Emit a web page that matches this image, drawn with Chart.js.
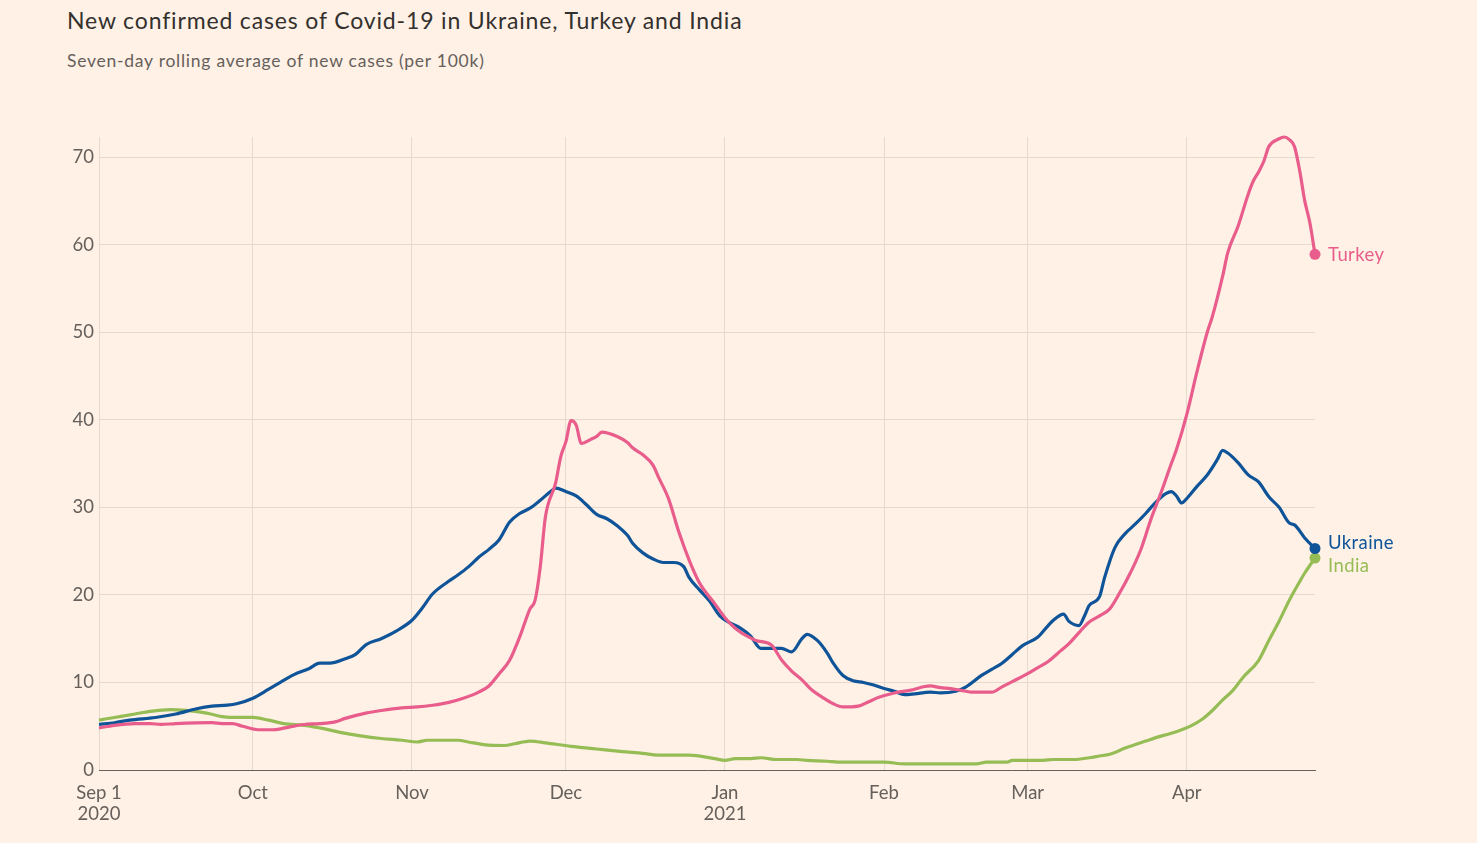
<!DOCTYPE html>
<html>
<head>
<meta charset="utf-8">
<script src="https://cdn.jsdelivr.net/npm/chart.js@4"></script>
<style>
  html, body { margin: 0; padding: 0; background: #fff1e5; width: 1477px; height: 843px; overflow: hidden; }
  #title { position: absolute; left: 67px; top: 6px; font-family: Lato, "Open Sans", sans-serif; font-size: 23px; letter-spacing: 0.85px; color: #33302e; white-space: nowrap; }
  #subtitle { position: absolute; left: 67px; top: 50px; font-family: Lato, "Open Sans", sans-serif; font-size: 17.5px; letter-spacing: 0.75px; color: #66605c; white-space: nowrap; }
  #wrap { position: absolute; left: 0; top: 0; width: 1477px; height: 843px; }
</style>
</head>
<body>
<div id="title">New confirmed cases of Covid-19 in Ukraine, Turkey and India</div>
<div id="subtitle">Seven-day rolling average of new cases (per 100k)</div>
<div id="wrap"><canvas id="c" width="1477" height="843"></canvas></div>
<script>
// Day index: 0 = 1 Sep 2020
const tickDays = [0, 30, 61, 91, 122, 153, 181, 212];
const tickLabels = [["Sep 1", "2020"], "Oct", "Nov", "Dec", ["Jan", "2021"], "Feb", "Mar", "Apr"];
const yTicks = [0, 10, 20, 30, 40, 50, 60, 70];

const ukraineDays = [0,3,6,11,15,19,22,25,27,30,33,35,38,41,43,45,48,50,52,55,58,61,63,65,68,70,72,74,76,78,80,82,84,86,88,89,91,93,95,97,99,101,103,104,106,108,110,112,114,115,117,119,121,123,125,127,129,131,133,135,137,138,140,142,143,145,147,149,151,153,155,157,159,162,164,167,169,172,174,176,178,180,183,185,186,188,189,191,192,193,195,196,198,200,202,204,206,208,209,210,211,212,214,216,218,219,220,222,224,226,228,230,232,233,235,237];
const ukraineValues = [5.2,5.4,5.7,6.0,6.4,7.0,7.3,7.4,7.6,8.2,9.2,9.9,10.9,11.6,12.2,12.2,12.7,13.2,14.3,15.0,15.9,17.1,18.5,20.1,21.5,22.3,23.2,24.3,25.2,26.3,28.3,29.3,29.9,30.8,31.8,32.2,31.8,31.3,30.3,29.2,28.7,27.9,26.8,25.9,24.8,24.1,23.7,23.7,23.2,22.0,20.6,19.3,17.6,16.8,16.2,15.3,13.9,13.9,13.9,13.5,15.0,15.5,14.8,13.3,12.3,10.8,10.2,10.0,9.7,9.3,9.0,8.6,8.7,8.9,8.8,9.0,9.5,10.8,11.5,12.2,13.2,14.2,15.2,16.5,17.1,17.8,17.0,16.5,17.5,18.8,19.8,22.0,25.4,27.0,28.1,29.3,30.6,31.6,31.8,31.3,30.5,31.0,32.4,33.7,35.5,36.5,36.2,35.1,33.7,32.9,31.2,30.0,28.2,28.0,26.5,25.3];

const turkeyDays = [0,3,7,10,12,15,22,24,26,28,31,34,37,40,43,46,48,52,55,59,62,65,68,71,74,76,78,80,82,84,85,86,87,89,90,91,92,93,94,96,97,98,101,103,104,106,108,109,111,113,115,117,120,122,124,126,128,131,133,135,137,139,141,143,145,148,150,152,155,158,162,164,166,168,170,174,176,178,181,183,185,187,189,191,193,195,197,199,201,203,205,207,209,210,212,214,216,217,219,220,222,224,225,226,227,228,230,231,232,233,234,235,236,237];
const turkeyValues = [4.8,5.1,5.3,5.3,5.2,5.3,5.4,5.3,5.3,5.0,4.6,4.6,4.9,5.2,5.3,5.5,5.9,6.5,6.8,7.1,7.2,7.4,7.7,8.2,8.9,9.6,11.0,12.5,15.2,18.4,19.4,23.2,28.9,32.8,35.8,37.5,39.9,39.4,37.3,37.8,38.1,38.6,38.1,37.4,36.8,36.0,34.8,33.5,31.0,27.2,24.0,21.4,19.0,17.4,16.2,15.4,14.8,14.3,12.6,11.3,10.3,9.1,8.3,7.6,7.2,7.3,7.8,8.3,8.8,9.1,9.6,9.4,9.3,9.1,8.9,8.9,9.5,10.1,11.0,11.7,12.4,13.4,14.4,15.7,16.9,17.6,18.4,20.3,22.5,25.1,28.6,31.7,35.0,36.6,40.6,45.5,50.0,51.8,56.4,59.1,62.1,65.8,67.3,68.3,69.5,71.2,72.1,72.3,72.0,71.2,68.5,65.0,62.5,58.9];

const indiaDays = [0,3,7,10,14,17,21,24,27,30,33,36,40,44,47,51,55,59,62,64,70,72,75,79,81,84,87,92,97,102,106,109,115,120,122,124,127,129,132,136,138,142,144,153,157,171,173,177,178,184,186,190,193,195,197,200,202,204,206,209,211,213,215,217,219,221,223,226,228,230,232,234,235,237];
const indiaValues = [5.7,6.0,6.4,6.7,6.9,6.8,6.5,6.1,6.0,6.0,5.7,5.3,5.1,4.7,4.3,3.9,3.6,3.4,3.2,3.4,3.4,3.2,2.9,2.8,3.0,3.3,3.1,2.7,2.4,2.1,1.9,1.7,1.7,1.3,1.1,1.3,1.3,1.4,1.2,1.2,1.1,1.0,0.9,0.9,0.7,0.7,0.9,0.9,1.1,1.1,1.2,1.2,1.4,1.6,1.8,2.5,2.9,3.3,3.7,4.2,4.6,5.1,5.8,6.8,8.0,9.1,10.6,12.5,14.8,17.0,19.4,21.5,22.5,24.2];

const seriesNames = ["Turkey", "Ukraine", "India"];
const seriesColors = ["#e95d8c", "#0f5499", "#96bd55"];

function pts(days, vals) { return days.map((d, i) => ({ x: d, y: vals[i] })); }
const FONT = "Lato, 'Open Sans', sans-serif";
const GRID = "#e6d9ce";
const TEXT = "#66605c";

function mkDataset(name, color, days, vals) {
  const last = days.length - 1;
  return {
    label: name,
    data: pts(days, vals),
    borderColor: color,
    backgroundColor: color,
    borderWidth: 3.2,
    cubicInterpolationMode: "monotone",
    clip: false,
    pointRadius: ctx => ctx.dataIndex === last ? 5.5 : 0,
    pointHoverRadius: 0,
    pointBorderWidth: 0,
    fill: false
  };
}

const endLabels = {
  id: "endLabels",
  afterDatasetsDraw(chart) {
    const ctx = chart.ctx;
    const items = chart.data.datasets.map((ds, i) => {
      const meta = chart.getDatasetMeta(i);
      const p = meta.data[meta.data.length - 1];
      return { text: ds.label, color: ds.borderColor, x: p.x, y: p.y, ly: p.y };
    }).sort((a, b) => a.y - b.y);
    const gap = 23;
    for (let k = 1; k < items.length; k++) {
      const a = items[k - 1], b = items[k];
      if (b.ly - a.ly < gap) {
        const mid = (a.ly + b.ly) / 2;
        a.ly = mid - gap / 2;
        b.ly = mid + gap / 2;
      }
    }
    ctx.save();
    ctx.font = "18.5px " + FONT;
    ctx.textBaseline = "middle";
    ctx.textAlign = "left";
    if ("letterSpacing" in ctx) ctx.letterSpacing = "0.4px";
    items.forEach(it => {
      ctx.fillStyle = it.color;
      ctx.fillText(it.text, it.x + 13, it.ly + 1);
    });
    ctx.restore();
  }
};

new Chart(document.getElementById("c"), {
  type: "line",
  data: {
    datasets: [
      mkDataset(seriesNames[0], seriesColors[0], turkeyDays, turkeyValues),
      mkDataset(seriesNames[1], seriesColors[1], ukraineDays, ukraineValues),
      mkDataset(seriesNames[2], seriesColors[2], indiaDays, indiaValues)
    ]
  },
  options: {
    responsive: false,
    animation: false,
    events: [],
    layout: { padding: { top: 137, right: 162, left: 0, bottom: 0 } },
    plugins: { legend: { display: false }, tooltip: { enabled: false }, title: { display: false } },
    scales: {
      x: {
        type: "linear",
        min: 0,
        max: 237,
        afterBuildTicks: s => { s.ticks = tickDays.map(v => ({ value: v })); },
        afterFit: s => { s.height = 73; },
        ticks: {
          autoSkip: false,
          maxRotation: 0,
          padding: 13,
          color: TEXT,
          font: { family: FONT, size: 18.5, lineHeight: 1.12 },
          callback: (v, i) => tickLabels[i]
        },
        grid: { color: GRID, lineWidth: 1, drawTicks: false },
        border: { display: true, color: "#66605c", width: 1 }
      },
      y: {
        min: 0,
        max: 72.3,
        afterBuildTicks: s => { s.ticks = yTicks.map(v => ({ value: v })); },
        afterFit: s => { s.width = 99; },
        ticks: {
          padding: 5,
          color: TEXT,
          font: { family: FONT, size: 18.5 },
          callback: v => String(v)
        },
        grid: { color: GRID, lineWidth: 1, drawTicks: false },
        border: { display: false }
      }
    }
  },
  plugins: [endLabels]
});
</script>
</body>
</html>
